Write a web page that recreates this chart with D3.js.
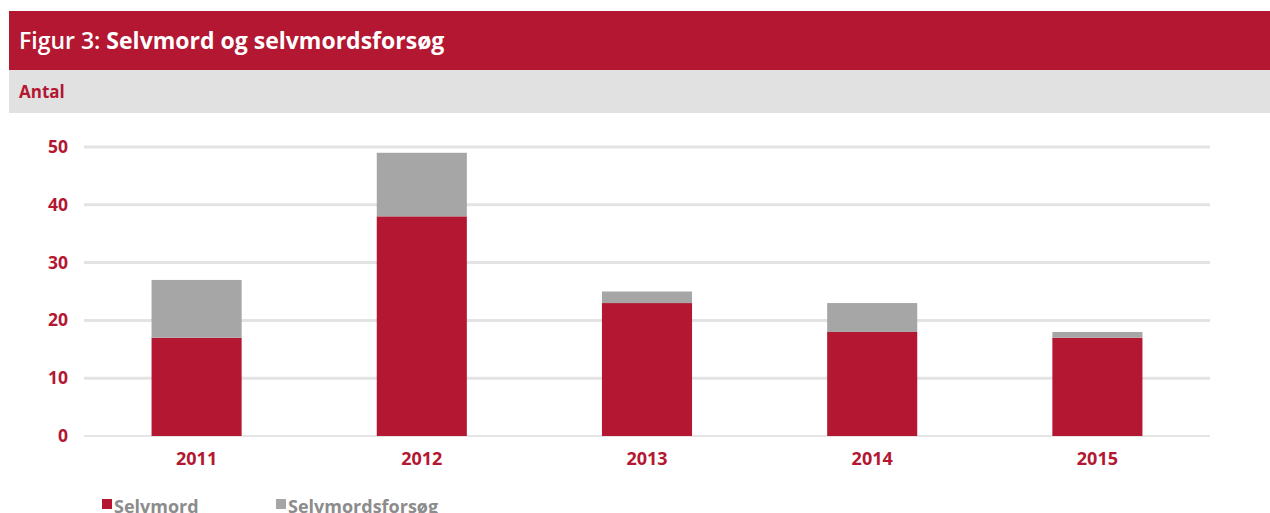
<!DOCTYPE html>
<html>
<head>
<meta charset="utf-8">
<script src="https://cdn.jsdelivr.net/npm/d3@7"></script>
<style>
  body { margin: 0; background: #fff; }
  svg { display: block; font-family: "Open Sans", "DejaVu Sans", sans-serif; }
</style>
</head>
<body>
<div id="chart"></div>
<script>
// data
var years = ["2011", "2012", "2013", "2014", "2015"]
var selvmord = [17, 38, 23, 18, 17]
var selvmordsforsoeg = [10, 11, 2, 5, 1]
var yTicks = [0, 10, 20, 30, 40, 50]
var seriesNames = ["Selvmord", "Selvmordsforsøg"]

var colors = ["#b31731", "#a6a6a6"]
var width = 1270, height = 513
var margin = {left: 84, right: 60, top: 147, bottom: 77}

const svg = d3.select("#chart").append("svg")
              .attr("width", width)
              .attr("height", height)

// header bands
svg.append("rect").attr("x", 9).attr("y", 11).attr("width", width - 9).attr("height", 59).attr("fill", "#b31731")
svg.append("rect").attr("x", 9).attr("y", 70).attr("width", width - 9).attr("height", 43).attr("fill", "#e1e1e1")

var title = svg.append("text").attr("x", 19).attr("y", 49)
               .attr("fill", "#fff").style("font-size", "23px")
title.append("tspan").style("font-weight", "600").text("Figur 3: ")
title.append("tspan").style("font-weight", "bold").text("Selvmord og selvmordsforsøg")

svg.append("text").attr("x", 19).attr("y", 98)
   .attr("fill", "#b31731").style("font-size", "17px").style("font-weight", "bold")
   .text("Antal")

var rows = years.map((y, i) => ({year: y, s: selvmord[i], f: selvmordsforsoeg[i]}))
var stacked = d3.stack().keys(["s", "f"])(rows)

var x = d3.scaleBand().domain(years)
          .range([margin.left, width - margin.right])
          .paddingInner(0.6).paddingOuter(0.3)
var y = d3.scaleLinear().domain([0, 50]).range([height - margin.bottom, margin.top])

// gridlines
svg.append("g").selectAll("line")
   .data(yTicks).enter().append("line")
   .attr("x1", margin.left).attr("x2", width - margin.right)
   .attr("y1", d => y(d)).attr("y2", d => y(d))
   .attr("stroke", (d) => d == 0 ? "#dcdcdc" : "#e3e3e3")
   .attr("stroke-width", (d) => d == 0 ? 1.5 : 3)

// y labels
svg.append("g").selectAll("text")
   .data(yTicks).enter().append("text")
   .attr("x", 68).attr("y", d => y(d) + 6)
   .attr("text-anchor", "end")
   .attr("fill", "#b31731").style("font-size", "17.5px").style("font-weight", "bold")
   .text(d => d)

// bars
svg.append("g").selectAll("g")
   .data(stacked).enter().append("g")
   .attr("fill", (d, i) => colors[i])
   .selectAll("rect")
   .data(d => d).enter().append("rect")
   .attr("x", d => x(d.data.year))
   .attr("width", x.bandwidth())
   .attr("y", d => y(d[1]))
   .attr("height", d => y(d[0]) - y(d[1]))

// x labels
svg.append("g").selectAll("text")
   .data(years).enter().append("text")
   .attr("x", d => x(d) + x.bandwidth() / 2).attr("y", 465)
   .attr("text-anchor", "middle")
   .attr("fill", "#b31731").style("font-size", "18px").style("font-weight", "bold")
   .text(d => d)

// legend (cut off at the bottom like the original)
var legendX = [102, 276]
seriesNames.forEach(function(name, i){
    svg.append("rect").attr("x", legendX[i]).attr("y", 499).attr("width", 10).attr("height", 10).attr("fill", colors[i])
    svg.append("text").attr("x", legendX[i] + 12).attr("y", 513)
       .attr("fill", "#8c8c8c").style("font-size", "18px").style("font-weight", "bold")
       .text(name)
})
</script>
</body>
</html>
